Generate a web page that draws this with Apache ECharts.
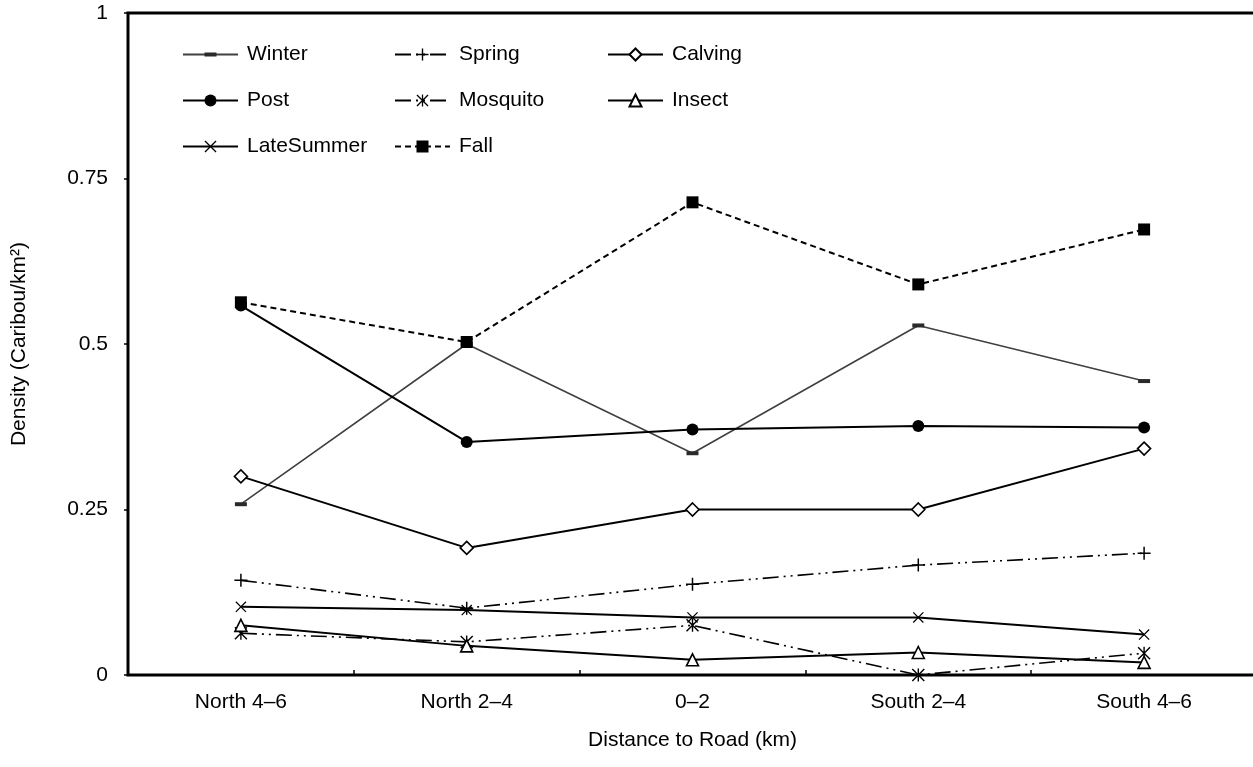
<!DOCTYPE html>
<html>
<head>
<meta charset="utf-8">
<script src="https://cdn.jsdelivr.net/npm/echarts@6/dist/echarts.min.js"></script>
<style>
  html, body { margin: 0; padding: 0; background: #fff; }
  #chart { width: 1253px; height: 767px; }
</style>
</head>
<body>
<div id="chart"></div>
<script>
// Distance classes along the road transect
const categories = ['North 4–6', 'North 2–4', '0–2', 'South 2–4', 'South 4–6'];

// Caribou density (caribou/km²) per season
const winter     = [0.258, 0.500, 0.335, 0.528, 0.444];
const spring     = [0.143, 0.101, 0.137, 0.166, 0.184];
const calving    = [0.300, 0.192, 0.250, 0.250, 0.342];
const post       = [0.558, 0.352, 0.371, 0.376, 0.374];
const mosquito   = [0.063, 0.050, 0.075, 0.000, 0.033];
const insect     = [0.075, 0.044, 0.023, 0.034, 0.019];
const lateSummer = [0.103, 0.098, 0.087, 0.087, 0.061];
const fall       = [0.563, 0.503, 0.714, 0.590, 0.673];

// Y axis ticks
const yMin = 0, yMax = 1, yStep = 0.25;

const FONT = '"Liberation Sans", Arial, sans-serif';
const FS = 21;

// Marker shapes drawn as filled paths inside a square box
const SYM_BAR = 'path://M0,0M12,12M0,4H12V8H0Z';
const SYM_PLUS = 'path://M6.2,0H7.8V6.2H14V7.8H7.8V14H6.2V7.8H0V6.2H6.2Z';
const SYM_CROSS = 'path://M0,1.1L1.1,0L14,12.9L12.9,14Z M12.9,0L14,1.1L1.1,14L0,12.9Z';
const SYM_STAR = 'path://M0,1.1L1.1,0L14,12.9L12.9,14Z M12.9,0L14,1.1L1.1,14L0,12.9Z M6.25,0H7.75V14H6.25Z';

const DASH_DOT_DOT = [16, 5, 2, 5, 2, 5];
const DASH = [6, 4];

function lineSeries(name, data, opts) {
  return Object.assign({
    name: name,
    type: 'line',
    data: data,
    symbolSize: 12,
    showAllSymbol: true,
    animation: false,
    emphasis: { disabled: true },
    lineStyle: { color: '#000', width: 2, type: 'solid' },
    itemStyle: { color: '#000', borderWidth: 0 }
  }, opts);
}

const series = [
  lineSeries('Winter', winter, {
    symbol: SYM_BAR, symbolSize: 12,
    lineStyle: { color: '#404040', width: 1.6, type: 'solid' },
    itemStyle: { color: '#2a2a2a', borderWidth: 0 }
  }),
  lineSeries('Spring', spring, {
    symbol: SYM_PLUS, symbolSize: 13,
    lineStyle: { color: '#000', width: 1.6, type: DASH_DOT_DOT }
  }),
  lineSeries('Calving', calving, {
    symbol: 'diamond', symbolSize: 13,
    itemStyle: { color: '#fff', borderColor: '#000', borderWidth: 1.6 }
  }),
  lineSeries('Post', post, {
    symbol: 'circle', symbolSize: 12
  }),
  lineSeries('Mosquito', mosquito, {
    symbol: SYM_STAR, symbolSize: 13,
    lineStyle: { color: '#000', width: 1.6, type: DASH_DOT_DOT }
  }),
  lineSeries('Insect', insect, {
    symbol: 'triangle', symbolSize: 12,
    itemStyle: { color: '#fff', borderColor: '#000', borderWidth: 1.6 }
  }),
  lineSeries('LateSummer', lateSummer, {
    symbol: SYM_CROSS, symbolSize: 11
  }),
  lineSeries('Fall', fall, {
    symbol: 'rect', symbolSize: 12,
    lineStyle: { color: '#000', width: 2, type: DASH }
  })
];

function legendColumn(left, names) {
  return {
    orient: 'vertical',
    left: left,
    top: 44,
    padding: 0,
    itemWidth: 55,
    itemHeight: 15,
    itemGap: 25,
    selectedMode: false,
    data: names,
    textStyle: {
      fontFamily: FONT, fontSize: FS, color: '#000',
      lineHeight: 20, padding: [0, 0, 0, 4]
    }
  };
}

const chart = echarts.init(document.getElementById('chart'), null, { renderer: 'canvas' });
chart.setOption({
  backgroundColor: '#fff',
  animation: false,
  textStyle: { fontFamily: FONT },
  grid: {
    show: true,
    outerBoundsMode: 'none',
    containLabel: false,
    left: 128, top: 13, width: 1129, bottom: 92,
    borderColor: '#000', borderWidth: 3,
    backgroundColor: 'transparent'
  },
  legend: [
    legendColumn(182, ['Winter', 'Post', 'LateSummer']),
    legendColumn(394, ['Spring', 'Mosquito', 'Fall']),
    legendColumn(607, ['Calving', 'Insect'])
  ],
  xAxis: {
    type: 'category',
    data: categories,
    boundaryGap: true,
    name: 'Distance to Road (km)',
    nameLocation: 'middle',
    nameGap: 55,
    nameTextStyle: { fontFamily: FONT, fontSize: FS, color: '#000' },
    axisLine: { show: false },
    axisTick: { show: true, inside: true, length: 5, lineStyle: { color: '#000', width: 1.5 } },
    axisLabel: { fontFamily: FONT, fontSize: FS, color: '#000', margin: 17 },
    splitLine: { show: false }
  },
  yAxis: {
    type: 'value',
    min: yMin, max: yMax, interval: yStep,
    name: 'Density (Caribou/km²)',
    nameLocation: 'middle',
    nameGap: 98,
    nameTextStyle: { fontFamily: FONT, fontSize: FS, color: '#000' },
    axisLine: { show: false },
    axisTick: { show: true, inside: false, length: 4, lineStyle: { color: '#000', width: 1.5 } },
    axisLabel: { fontFamily: FONT, fontSize: FS, color: '#000', margin: 20 },
    splitLine: { show: false }
  },
  series: series
});
</script>
</body>
</html>
